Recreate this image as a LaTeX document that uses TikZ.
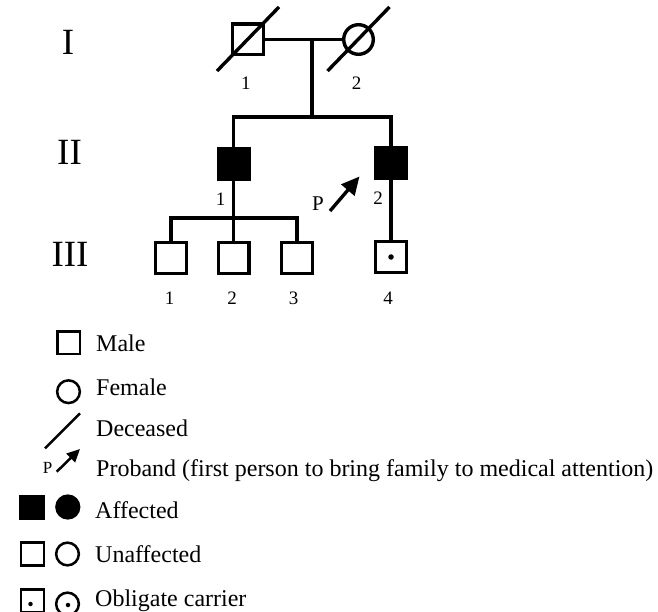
\documentclass[tikz,border=0pt]{standalone}
\usepackage{fontspec}
\setmainfont{Liberation Serif}
\usetikzlibrary{arrows.meta}
\begin{document}
\begin{tikzpicture}[x=1pt,y=-1pt,
  male/.style={rectangle, draw, line width=3.4pt, minimum size=30.6pt, inner sep=0pt},
  female/.style={circle, draw, line width=3.4pt, minimum size=29.6pt, inner sep=0pt},
  aff/.style={fill=black},
  link/.style={line width=3.4pt},
  slash/.style={line width=3.4pt},
  lbl/.style={font=\fontsize{19}{19}\selectfont, inner sep=0pt},
  gen/.style={font=\fontsize{37}{37}\selectfont, inner sep=0pt},
  lmale/.style={rectangle, draw, line width=2.5pt, minimum size=22.7pt, inner sep=0pt},
  lfemale/.style={circle, draw, line width=2.5pt, minimum size=22.7pt, inner sep=0pt},
  ltext/.style={font=\fontsize{24}{24}\selectfont, anchor=base west, inner sep=0pt},
  cdot/.style={circle, fill=black, inner sep=0pt, minimum size=5.5pt},
]
\useasboundingbox (0,0) rectangle (658,612);

% generation labels
\node[gen] (g1) at (68,42.5) {I};
\node[gen] (g2) at (69.5,152.5) {II};
\node[gen] (g3) at (70,254) {III};

% generation I
\node[male] (i1) at (248,39.5) {};
\node[female] (i2) at (358.5,39.5) {};
\draw[slash] ([shift={(-31,31.5)}]i1.center) -- ([shift={(31,-32.5)}]i1.center);
\draw[slash] ([shift={(-31,31.5)}]i2.center) -- ([shift={(31,-32.5)}]i2.center);
\draw[link] (i1.east) -- (i2.west);
\node[lbl] (n11) at (245.8,83.3) {1};
\node[lbl] (n12) at (356.7,83.3) {2};
\coordinate (m) at (312,39.5);
\coordinate (s2) at (312,117);
\draw[link] (m) -- (s2);

% generation II
\node[male,aff] (ii1) at (233.5,164.5) {};
\node[male,aff] (ii2) at (391,163.5) {};
\coordinate (s2l) at (233.5,117);
\coordinate (s2r) at (391,117);
\draw[link] (ii1.north) -- (s2l) -- (s2r) -- (ii2.north);
\node[lbl] (n21) at (220.5,199) {1};
\node[lbl] (n22) at (378,198.5) {2};
\node[font=\fontsize{21}{21}\selectfont, inner sep=0pt] (pp) at (318,203.5) {P};
\coordinate (pt) at (330,211);
\coordinate (ph) at (359.5,176.5);
\draw[line width=3.4pt, -{Triangle[length=18pt,width=17pt]}] (pt) -- (ph);

% generation III
\node[male] (iii1) at (171,258) {};
\node[male] (iii2) at (233.5,258) {};
\node[male] (iii3) at (297,258) {};
\node[male] (iii4) at (391,257) {};
\node[cdot] (dt4) at (iii4.center) {};
\coordinate (s3) at (233.5,218);
\coordinate (s3l) at (171,218);
\coordinate (s3r) at (297,218);
\draw[link] (ii1.south) -- (s3);
\draw[link] (iii1.north) -- (s3l) -- (s3r) -- (iii3.north);
\draw[link] (s3) -- (iii2.north);
\draw[link] (ii2.south) -- (iii4.north);
\node[lbl] (n31) at (169.5,298) {1};
\node[lbl] (n32) at (232,298) {2};
\node[lbl] (n33) at (293.5,298) {3};
\node[lbl] (n34) at (388,298) {4};

% legend
\node[lmale] (lm) at (68.8,342.8) {};
\node[ltext] (tm) at (96,351.7) {Male};
\node[lfemale] (lf) at (68.5,391.7) {};
\node[ltext] (tf) at (96,395) {Female};
\coordinate (d1) at (45,448.3);
\coordinate (d2) at (80,413.3);
\draw[line width=2.5pt] (d1) -- (d2);
\node[ltext] (td) at (96,436.7) {Deceased};
\node[font=\fontsize{17}{17}\selectfont, inner sep=0pt] (lp) at (47.5,468) {P};
\coordinate (lpt) at (56.7,471.7);
\coordinate (lph) at (80,449);
\draw[line width=2.5pt, -{Triangle[length=13pt,width=12pt]}] (lpt) -- (lph);
\node[ltext] (tp) at (96,476) {Proband (first person to bring family to medical attention)};
\node[lmale,aff] (las) at (32,507.5) {};
\node[lfemale,aff] (lac) at (67.8,507) {};
\node[ltext] (ta) at (95,518.3) {Affected};
\node[lmale] (lus) at (32.5,554) {};
\node[lfemale] (luc) at (67.5,554) {};
\node[ltext] (tu) at (95,562.5) {Unaffected};
\node[lmale] (los) at (32.5,601) {};
\node[lfemale] (loc) at (67.5,604) {};
\node[cdot, minimum size=4.5pt] (lod1) at (30.5,604) {};
\node[cdot, minimum size=4.5pt] (lod2) at (68,605) {};
\node[ltext] (to) at (95,606.5) {Obligate carrier};
\end{tikzpicture}
\end{document}
